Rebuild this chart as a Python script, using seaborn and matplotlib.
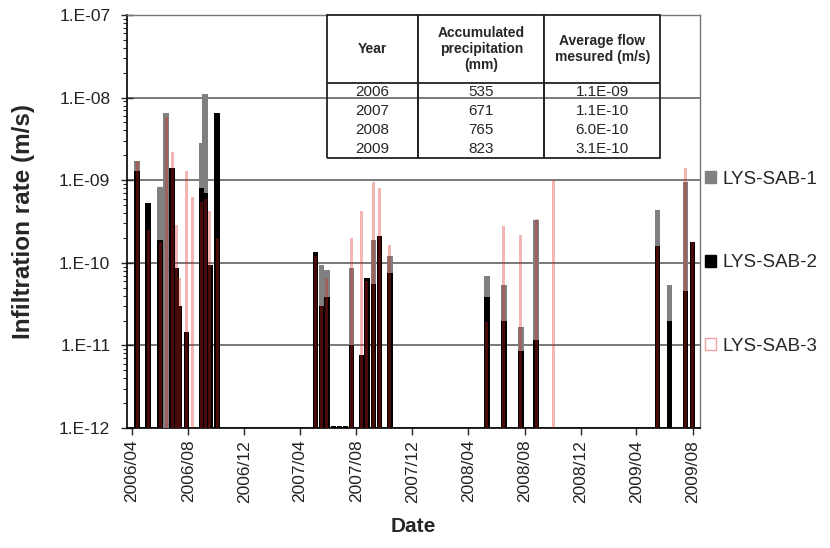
import numpy as np
import pandas as pd
import matplotlib
matplotlib.use("Agg")
import matplotlib.pyplot as plt
import matplotlib.dates as mdates
from matplotlib.patches import Patch
from matplotlib.ticker import FuncFormatter, LogLocator
import seaborn as sns

# ---------------- data ----------------
dates = ["2006-04-12", "2006-05-06", "2006-06-01", "2006-06-14", "2006-06-27",
         "2006-07-06", "2006-07-12", "2006-07-28", "2006-08-10", "2006-08-30",
         "2006-09-07", "2006-09-17", "2006-10-03",
         "2007-05-05", "2007-05-18", "2007-05-29", "2007-06-13", "2007-06-26",
         "2007-07-09", "2007-07-22", "2007-08-13", "2007-08-24", "2007-09-08",
         "2007-09-21", "2007-10-13",
         "2008-05-11", "2008-06-17", "2008-07-24", "2008-08-26", "2008-10-02",
         "2009-05-17", "2009-06-12", "2009-07-17", "2009-08-01"]
nan = np.nan
sab1 = [1.7e-9, nan, 8.3e-10, 6.5e-9, nan,
        nan, nan, nan, nan, 2.8e-9,
        1.1e-8, nan, nan,
        nan, 9.5e-11, 8.2e-11, nan, nan,
        nan, 8.7e-11, nan, nan, 1.9e-10,
        nan, 1.2e-10,
        7.0e-11, 5.4e-11, 1.67e-11, 3.3e-10, nan,
        4.3e-10, 5.4e-11, 9.5e-10, nan]
sab2 = [1.3e-9, 5.3e-10, 1.9e-10, nan, 1.4e-9,
        8.7e-11, 3.0e-11, 1.45e-11, nan, 8.0e-10,
        7.0e-10, 9.3e-11, 6.5e-9,
        1.35e-10, 3.0e-11, 3.9e-11, 1.05e-12, 1.05e-12,
        1.05e-12, 1.0e-11, 7.6e-12, 6.6e-11, 5.6e-11,
        2.1e-10, 7.6e-11,
        3.9e-11, 2.0e-11, 8.5e-12, 1.17e-11, nan,
        1.6e-10, 1.95e-11, 4.5e-11, 1.8e-10]
sab3 = [1.7e-9, 2.5e-10, 1.8e-10, 5.8e-9, 2.2e-9,
        2.9e-10, 6.6e-11, 1.3e-9, 6.3e-10, 5.5e-10,
        6.0e-10, 4.2e-10, 2.0e-10,
        1.2e-10, 3.0e-11, 6.6e-11, nan, nan,
        nan, 2.0e-10, 4.2e-10, 6.0e-11, 9.5e-10,
        8.0e-10, 1.65e-10,
        1.9e-11, 2.8e-10, 2.2e-10, 3.4e-10, 1.0e-9,
        1.6e-10, nan, 1.4e-9, 1.8e-10]
series_names = ["LYS-SAB-1", "LYS-SAB-2", "LYS-SAB-3"]

table_years = ["2006", "2007", "2008", "2009"]
table_precip = ["535", "671", "765", "823"]
table_flow = ["1.1E-09", "1.1E-10", "6.0E-10", "3.1E-10"]
table_header = ["Year", "Accumulated\nprecipitation\n(mm)", "Average flow\nmesured (m/s)"]

# ---------------- style ----------------
sns.set_style("white")
plt.rcParams["font.family"] = ["Liberation Sans", "DejaVu Sans"]

df = pd.DataFrame({"date": pd.to_datetime(dates), "LYS-SAB-1": sab1,
                   "LYS-SAB-2": sab2, "LYS-SAB-3": sab3})
df["x"] = mdates.date2num(df["date"])

fig = plt.figure(figsize=(8.3, 5.48), dpi=100)
ax = fig.add_axes([127 / 830, 1 - 428 / 548, 573 / 830, 413 / 548])
ax.set_yscale("log")

styles = {
    "LYS-SAB-1": dict(color="#808080", alpha=1.0, days=12.0),
    "LYS-SAB-2": dict(color="#000000", alpha=1.0, days=12.0),
    "LYS-SAB-3": dict(color=(0.88, 0.12, 0.12), alpha=0.33, days=6.5),
}
for name in series_names:
    sub = df[["x", name]].dropna()
    xs = np.unique(sub["x"].values)
    native = np.min(np.diff(xs)) if len(xs) > 1 else 1.0
    st = styles[name]
    sns.barplot(data=sub, x="x", y=name, native_scale=True, errorbar=None,
                width=st["days"] / native, color=st["color"], alpha=st["alpha"],
                saturation=1, linewidth=0, ax=ax, zorder=3)

ax.set_ylim(1e-12, 1e-7)
ax.set_xlim(mdates.date2num(pd.Timestamp("2006-03-21")),
            mdates.date2num(pd.Timestamp("2009-08-17")))

ax.yaxis.set_major_locator(LogLocator(base=10, numticks=10))
ax.yaxis.set_minor_locator(LogLocator(base=10, subs=np.arange(2, 10), numticks=50))
ax.yaxis.set_major_formatter(FuncFormatter(lambda v, p: "1.E-%02d" % int(round(-np.log10(v)))))
ax.xaxis.set_major_locator(mdates.MonthLocator(bymonth=[4, 8, 12]))
ax.xaxis.set_major_formatter(mdates.DateFormatter("%Y/%m"))

ax.grid(axis="y", which="major", color="#555555", linewidth=1.1, zorder=0)
ax.grid(axis="x", visible=False)
ax.set_axisbelow(True)
for s in ["top", "right"]:
    ax.spines[s].set_color("#777777")
    ax.spines[s].set_linewidth(1.0)
for s in ["left", "bottom"]:
    ax.spines[s].set_color("#000000")
    ax.spines[s].set_linewidth(1.2)

ax.tick_params(axis="y", which="major", direction="inout", length=8, width=1,
               labelsize=12.5, pad=8, left=True, labelcolor="#222222")
ax.tick_params(axis="y", which="minor", direction="out", length=3, width=0.8, left=True)
ax.tick_params(axis="x", which="major", direction="out", length=5, width=1,
               labelsize=12.5, labelrotation=90, bottom=True, labelcolor="#222222")
for lab in ax.get_xticklabels():
    lab.set_rotation(90)

ax.set_ylabel("Infiltration rate (m/s)", fontsize=17.5, fontweight="bold")
ax.yaxis.set_label_coords(-0.16, 0.5)
ax.set_xlabel("Date", fontsize=15, fontweight="bold")
ax.xaxis.set_label_coords(0.5, -0.215)

# ---------------- table ----------------
x0 = (327 - 127) / 573
x1 = (660 - 127) / 573
ytop = 1.0
ybot = (428 - 158) / 413
cell_rows = [[y, p, f] for y, p, f in zip(table_years, table_precip, table_flow)]
tbl = ax.table(cellText=cell_rows, colLabels=table_header, cellLoc="center",
               colWidths=[0.273, 0.38, 0.347], bbox=[x0, ybot, x1 - x0, ytop - ybot],
               zorder=6)
tbl.auto_set_font_size(False)
cells = tbl.get_celld()
base_h = cells[(1, 0)].get_height()
for (r, c), cell in cells.items():
    cell.set_edgecolor("#222222")
    cell.set_linewidth(1.3)
    cell.set_facecolor("white")
    t = cell.get_text()
    if r == 0:
        cell.set_height(base_h * 3.6)
        t.set_fontweight("bold")
        t.set_fontsize(10)
        t.set_multialignment("center")
    else:
        t.set_fontsize(11)
        cell.visible_edges = "BLR" if r == len(table_years) else "LR"

# ---------------- legend ----------------
handles = [Patch(facecolor="#808080", edgecolor="#808080"),
           Patch(facecolor="#000000", edgecolor="#000000"),
           Patch(facecolor="white", edgecolor="#f0a0a0", linewidth=1.0)]
ax.legend(handles, series_names, loc="center left", bbox_to_anchor=(1.008, 0.4),
          frameon=False, fontsize=13.5, handlelength=0.6, handleheight=0.6,
          handletextpad=0.35, labelspacing=3.55, borderpad=0, borderaxespad=0)

fig.savefig("out.png", dpi=100)
